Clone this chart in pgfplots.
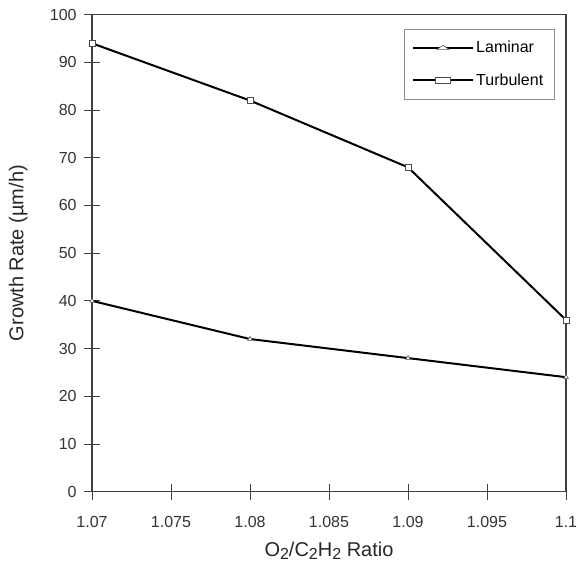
\documentclass[border=0pt]{standalone}
\usepackage{fontspec}
\setmainfont{Liberation Sans}
\usepackage{pgfplots}
\pgfplotsset{compat=1.18}
\usetikzlibrary{calc}
\newcommand{\sub}[1]{\raisebox{-0.25ex}{\fontsize{12}{13}\selectfont #1}}
\begin{document}
\begin{tikzpicture}
\begin{axis}[
  scale only axis,
  width=355.5pt, height=357.75pt,
  xmin=1.07, xmax=1.1, ymin=0, ymax=100,
  xtick={1.07,1.075,1.08,1.085,1.09,1.095,1.1},
  xticklabels={1.07,1.075,1.08,1.085,1.09,1.095,1.1},
  ytick={0,10,...,100},
  xtick pos=left, ytick pos=left,
  /pgf/number format/assume math mode=true,
  tick align=center,
  major tick length=12pt,
  tick style={black!75, line width=0.7pt},
  axis line style={black!75, line width=0.8pt},
  tick label style={font=\fontsize{12}{14}\selectfont, text=black!80},
  xticklabel style={yshift=-9pt},
  yticklabel style={xshift=-2pt},
  xlabel={O\sub{2}/C\sub{2}H\sub{2} Ratio},
  ylabel={Growth Rate (µm/h)},
  label style={font=\fontsize{15}{17}\selectfont, text=black!85},
  xlabel style={yshift=-4pt},
  ylabel style={yshift=10pt},
  legend style={at={(0.975,0.97)}, anchor=north east, draw=black!45,
    font=\fontsize{12}{14}\selectfont, row sep=10pt, inner xsep=6pt, inner ysep=7pt,
    cells={anchor=west}},
  legend image post style={xscale=2.6},
]
\addplot[black, line width=1.5pt, mark=triangle*, mark size=2pt,
  mark options={fill=white, draw=black!70, line width=0.4pt}]
  coordinates {(1.07,40) (1.08,32) (1.09,28) (1.1,24)};
\addlegendentry{Laminar}
\addplot[black, line width=1.5pt, mark=square*, mark size=2.2pt,
  mark options={fill=white, draw=black!70, line width=0.4pt}]
  coordinates {(1.07,94) (1.08,82) (1.09,68) (1.1,36)};
\addlegendentry{Turbulent}
\end{axis}
\pgfresetboundingbox
\path ($(current axis.south west)+(-69pt,-55pt)$) rectangle ($(current axis.north east)+(9pt,11pt)$);
\end{tikzpicture}
\end{document}
